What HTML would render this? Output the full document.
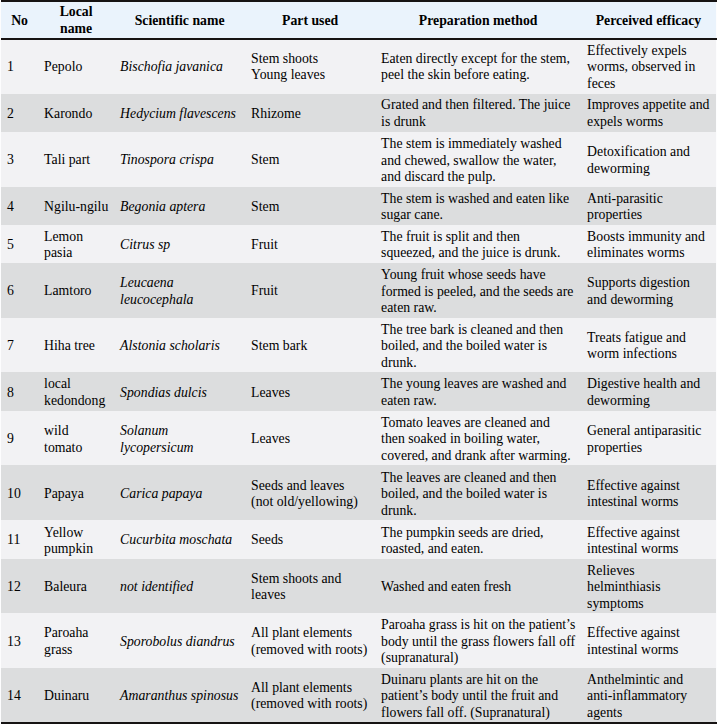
<!DOCTYPE html>
<html><head><meta charset="utf-8">
<style>
html,body{margin:0;padding:0;background:#fdfdfe;}
body{width:717px;height:724px;overflow:hidden;position:relative;font-family:"Liberation Serif",serif;color:#000;}
table{border-collapse:separate;border-spacing:0;table-layout:fixed;width:714.7px;position:absolute;left:1.1px;top:0;font-size:13.78px;line-height:16.5px;}
thead th{box-sizing:border-box;background:#eaf3fc;background-clip:padding-box;font-weight:bold;text-align:center;vertical-align:middle;padding:1.5px 4px 0 4px;height:40px;border-top:2.5px solid #fdfdfe;border-bottom:2.5px solid #fdfdfe;line-height:16.5px;}
thead th.ln{line-height:17px;padding-top:0;padding-bottom:0.6px;}
td{box-sizing:border-box;padding:3px 0 0 6px;vertical-align:middle;}
tbody tr:nth-child(odd) td{background:#f2f2f4;}
tbody tr:nth-child(even) td{background:#dcddde;}
td.sci{font-style:italic;}
tr.row1 td{padding-top:1px;}
tr.row2 td{padding-top:1.6px;}
tr.row2 td.s1{padding-top:3.6px;}
tr.row3 td.s1{padding-top:1.0px;}
tr.row6 td.s1{padding-top:1.0px;}
tr.row11 td.s1{padding-top:1.0px;}
.bt{position:absolute;left:1.1px;top:0;width:716px;height:1.85px;background:#161313;}
.bh{position:absolute;left:1.1px;top:38px;width:716px;height:1.85px;background:#161313;}
.bb{position:absolute;left:1.1px;top:721.9px;width:716px;height:3px;background:#161313;}
</style></head><body>
<table>
<colgroup><col style="width:37px"><col style="width:76px"><col style="width:131px"><col style="width:130px"><col style="width:206px"><col style="width:134.7px"></colgroup>
<thead><tr><th>No</th><th class="ln">Local<br>name</th><th>Scientific name</th><th>Part used</th><th>Preparation method</th><th>Perceived efficacy</th></tr></thead>
<tbody>
<tr class="row1" style="height:53.8px"><td>1</td><td>Pepolo</td><td class="sci">Bischofia javanica</td><td>Stem shoots<br>Young leaves</td><td>Eaten directly except for the stem,<br>peel the skin before eating.</td><td>Effectively expels<br>worms, observed in<br>feces</td></tr>
<tr class="row2" style="height:38.0px"><td class="s1">2</td><td class="s1">Karondo</td><td class="sci s1">Hedycium flavescens</td><td class="s1">Rhizome</td><td>Grated and then filtered. The juice<br>is drunk</td><td>Improves appetite and<br>expels worms</td></tr>
<tr class="row3" style="height:55.0px"><td class="s1">3</td><td class="s1">Tali part</td><td class="sci s1">Tinospora crispa</td><td class="s1">Stem</td><td>The stem is immediately washed<br>and chewed, swallow the water,<br>and discard the pulp.</td><td>Detoxification and<br>deworming</td></tr>
<tr class="row4" style="height:38.1px"><td>4</td><td>Ngilu-ngilu</td><td class="sci">Begonia aptera</td><td>Stem</td><td>The stem is washed and eaten like<br>sugar cane.</td><td>Anti-parasitic<br>properties</td></tr>
<tr class="row5" style="height:38.0px"><td>5</td><td>Lemon<br>pasia</td><td class="sci">Citrus sp</td><td>Fruit</td><td>The fruit is split and then<br>squeezed, and the juice is drunk.</td><td>Boosts immunity and<br>eliminates worms</td></tr>
<tr class="row6" style="height:54.8px"><td class="s1">6</td><td class="s1">Lamtoro</td><td class="sci">Leucaena<br>leucocephala</td><td class="s1">Fruit</td><td>Young fruit whose seeds have<br>formed is peeled, and the seeds are<br>eaten raw.</td><td>Supports digestion<br>and deworming</td></tr>
<tr class="row7" style="height:54.3px"><td>7</td><td>Hiha tree</td><td class="sci">Alstonia scholaris</td><td>Stem bark</td><td>The tree bark is cleaned and then<br>boiled, and the boiled water is<br>drunk.</td><td>Treats fatigue and<br>worm infections</td></tr>
<tr class="row8" style="height:38.8px"><td>8</td><td>local<br>kedondong</td><td class="sci">Spondias dulcis</td><td>Leaves</td><td>The young leaves are washed and<br>eaten raw.</td><td>Digestive health and<br>deworming</td></tr>
<tr class="row9" style="height:54.7px"><td>9</td><td>wild<br>tomato</td><td class="sci">Solanum<br>lycopersicum</td><td>Leaves</td><td>Tomato leaves are cleaned and<br>then soaked in boiling water,<br>covered, and drank after warming.</td><td>General antiparasitic<br>properties</td></tr>
<tr class="row10" style="height:54.9px"><td>10</td><td>Papaya</td><td class="sci">Carica papaya</td><td>Seeds and leaves<br>(not old/yellowing)</td><td>The leaves are cleaned and then<br>boiled, and the boiled water is<br>drunk.</td><td>Effective against<br>intestinal worms</td></tr>
<tr class="row11" style="height:38.4px"><td class="s1">11</td><td>Yellow<br>pumpkin</td><td class="sci s1">Cucurbita moschata</td><td class="s1">Seeds</td><td>The pumpkin seeds are dried,<br>roasted, and eaten.</td><td>Effective against<br>intestinal worms</td></tr>
<tr class="row12" style="height:54.0px"><td>12</td><td>Baleura</td><td class="sci">not identified</td><td>Stem shoots and<br>leaves</td><td>Washed and eaten fresh</td><td>Relieves<br>helminthiasis<br>symptoms</td></tr>
<tr class="row13" style="height:55.2px"><td>13</td><td>Paroaha<br>grass</td><td class="sci">Sporobolus diandrus</td><td>All plant elements<br>(removed with roots)</td><td>Paroaha grass is hit on the patient’s<br>body until the grass flowers fall off<br>(supranatural)</td><td>Effective against<br>intestinal worms</td></tr>
<tr class="row14" style="height:54.0px"><td>14</td><td>Duinaru</td><td class="sci">Amaranthus spinosus</td><td>All plant elements<br>(removed with roots)</td><td>Duinaru plants are hit on the<br>patient’s body until the fruit and<br>flowers fall off. (Supranatural)</td><td>Anthelmintic and<br>anti-inflammatory<br>agents</td></tr>
</tbody>
</table>
<div class="bt"></div><div class="bh"></div><div class="bb"></div>
</body></html>
